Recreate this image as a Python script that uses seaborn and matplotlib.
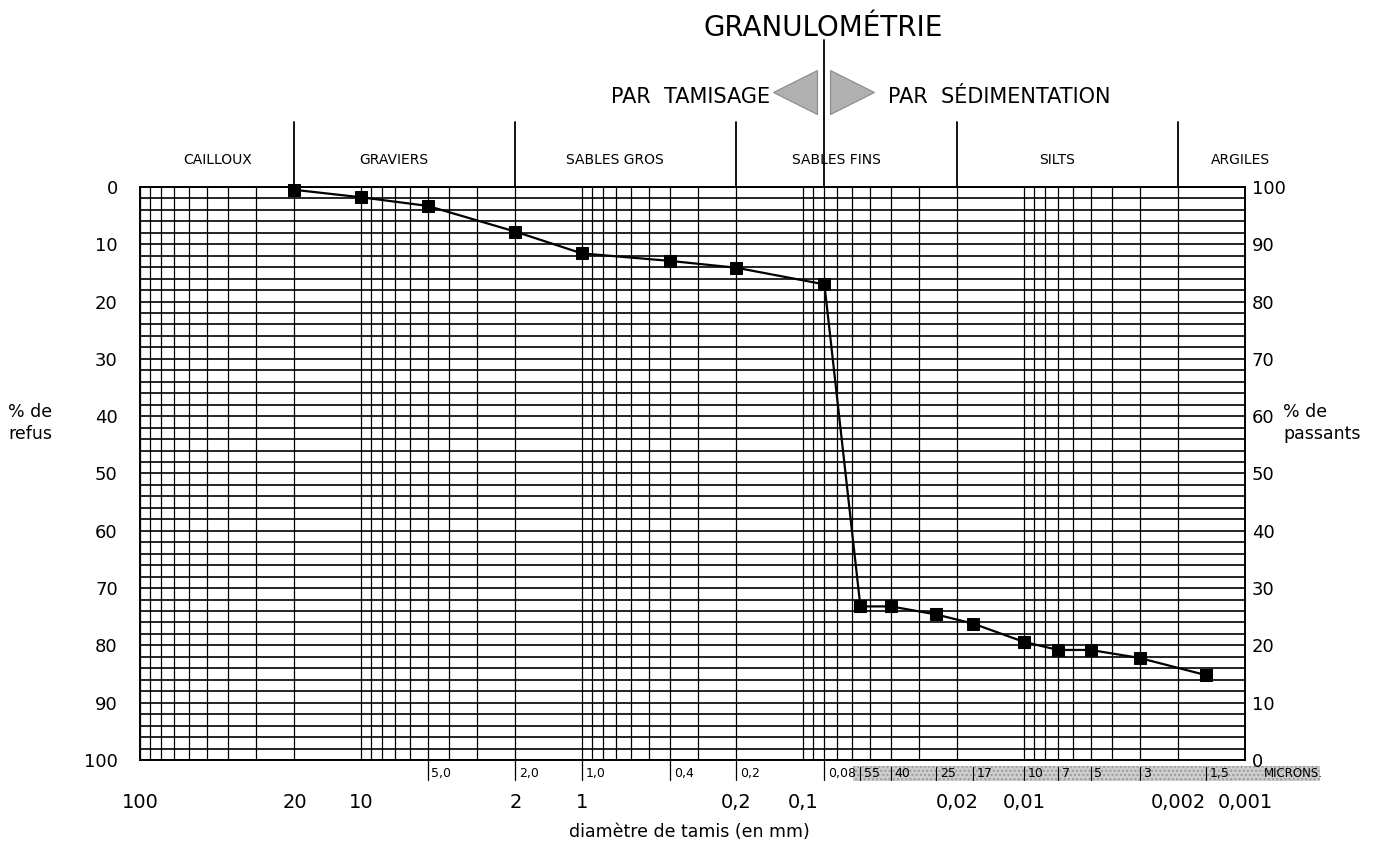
import numpy as np
import matplotlib
matplotlib.use("Agg")
import matplotlib.pyplot as plt
from matplotlib.patches import Rectangle
from matplotlib.ticker import LogLocator, NullFormatter
import seaborn as sns

# courbe granulometrique : diametre (mm) et % de refus
diametre = [20, 10, 5, 2, 1, 0.4, 0.2, 0.08,
            0.055, 0.040, 0.025, 0.017, 0.010, 0.007, 0.005, 0.003, 0.0015]
refus = [0.5, 1.8, 3.3, 7.8, 11.6, 12.9, 14.1, 17.0,
         73.2, 73.2, 74.6, 76.2, 79.4, 80.8, 80.8, 82.2, 85.2]

# classes granulometriques et leurs limites (mm)
classes = ["CAILLOUX", "GRAVIERS", "SABLES GROS", "SABLES FINS", "SILTS", "ARGILES"]
limites = [100, 20, 2, 0.2, 0.02, 0.002, 0.001]
limite_tamisage = 0.08

x_ticks = [100, 20, 10, 2, 1, 0.2, 0.1, 0.02, 0.01, 0.002, 0.001]
x_labels = ["100", "20", "10", "2", "1", "0,2", "0,1", "0,02", "0,01", "0,002", "0,001"]

tamis = [5.0, 2.0, 1.0, 0.4, 0.2, 0.08]
tamis_labels = ["5,0", "2,0", "1,0", "0,4", "0,2", "0,08"]
microns = [55, 40, 25, 17, 10, 7, 5, 3, 1.5]
microns_labels = ["55", "40", "25", "17", "10", "7", "5", "3", "1,5"]

y_ticks = list(range(0, 101, 10))

sns.set_theme(style="white")
plt.rcParams['font.family'] = ['DejaVu Sans']
plt.rcParams['text.color'] = 'black'

fig = plt.figure(figsize=(13.9, 8.46), dpi=100)
ax = fig.add_axes([0.1007, 0.1017, 0.7950, 0.6773])

ax.set_xscale('log')
ax.set_xlim(100, 0.001)
ax.set_ylim(100, 0)

# quadrillage logarithmique + lignes tous les 2 %
ax.xaxis.set_minor_locator(LogLocator(base=10, subs=np.arange(1, 10), numticks=40))
ax.xaxis.set_minor_formatter(NullFormatter())
ax.set_xticks(x_ticks, labels=x_labels)
ax.set_yticks(y_ticks)
ax.set_yticks(range(0, 101, 2), minor=True)
ax.grid(which='both', axis='x', color='black', linewidth=0.9)
ax.grid(which='both', axis='y', color='black', linewidth=1.2)
ax.tick_params(axis='x', which='both', length=0, pad=24, labelsize=14, colors='black')
ax.tick_params(axis='y', which='both', length=0, pad=16, labelsize=13, colors='black')
for s in ax.spines.values():
    s.set_color('black')
    s.set_linewidth(1.4)

sns.lineplot(x=diametre, y=refus, ax=ax, color='black', marker='s', markersize=8,
             markeredgecolor='black', linewidth=1.6, sort=False, clip_on=False, zorder=5)

ax2 = ax.twinx()
ax2.set_ylim(0, 100)
ax2.set_yticks(y_ticks)
ax2.tick_params(axis='y', length=0, pad=5, labelsize=13, colors='black')
ax2.grid(False)
for s in ax2.spines.values():
    s.set_visible(False)

trans = ax.get_xaxis_transform()

# limites des classes au-dessus du graphique
for b in limites[1:-1]:
    ax.plot([b, b], [1.0, 1.113], transform=trans, color='black', lw=1.3, clip_on=False)
for i, name in enumerate(classes):
    xc = np.sqrt(limites[i] * limites[i + 1])
    if 0 < i < len(classes) - 1:
        xc *= 1.12
    if name == "ARGILES":
        xc = limites[i + 1] * 1.05
    ax.text(xc, 1.047, name, transform=trans, ha='center', va='center', fontsize=10, color='black')

# tamisage / sedimentation
ax.plot([limite_tamisage, limite_tamisage], [1.0, 1.2565], transform=trans,
        color='black', lw=1.3, clip_on=False)
ax.plot(limite_tamisage * 1.36, 1.165, marker='<', ms=31, color='#b0b0b0',
        markeredgecolor='#8a8a8a', markeredgewidth=0.8, transform=trans, clip_on=False)
ax.plot(limite_tamisage / 1.33, 1.165, marker='>', ms=31, color='#b0b0b0',
        markeredgecolor='#8a8a8a', markeredgewidth=0.8, transform=trans, clip_on=False)
fig.text(0.592, 0.967, "GRANULOMÉTRIE", ha='center', va='center', fontsize=20, color='black')
fig.text(0.554, 0.885, "PAR  TAMISAGE", ha='right', va='center', fontsize=15, color='black')
fig.text(0.639, 0.885, "PAR  SÉDIMENTATION", ha='left', va='center', fontsize=15, color='black')

# bande des microns
ax.add_patch(Rectangle((0.000458, -0.0366), 0.0591 - 0.000458, 0.0261, transform=trans,
                       facecolor='#cdcdcd', edgecolor='#9a9a9a', hatch='....',
                       linewidth=0, clip_on=False, zorder=1))

for v, lab in zip(tamis, tamis_labels):
    ax.plot([v, v], [0, -0.035], transform=trans, color='black', lw=0.9, clip_on=False)
    ax.text(v * 0.96, -0.023, lab, transform=trans, ha='left', va='center', fontsize=9, color='black')
for v, lab in zip(microns, microns_labels):
    x = v / 1000
    ax.plot([x, x], [-0.012, -0.035], transform=trans, color='black', lw=0.8, clip_on=False)
    ax.text(x * 0.96, -0.023, lab, transform=trans, ha='left', va='center', fontsize=9, color='black')
ax.text(0.00082, -0.023, "MICRONS.", transform=trans, ha='left', va='center', fontsize=8.5, color='black')

fig.text(0.006, 0.5, "% de\nrefus", ha='left', va='center', fontsize=12.5, linespacing=1.3, color='black')
fig.text(0.923, 0.5, "% de\npassants", ha='left', va='center', fontsize=12.5, linespacing=1.3, color='black')
fig.text(0.496, 0.017, "diamètre de tamis (en mm)", ha='center', va='center', fontsize=12.5, color='black')

fig.savefig("out.png", dpi=100, facecolor='white')
